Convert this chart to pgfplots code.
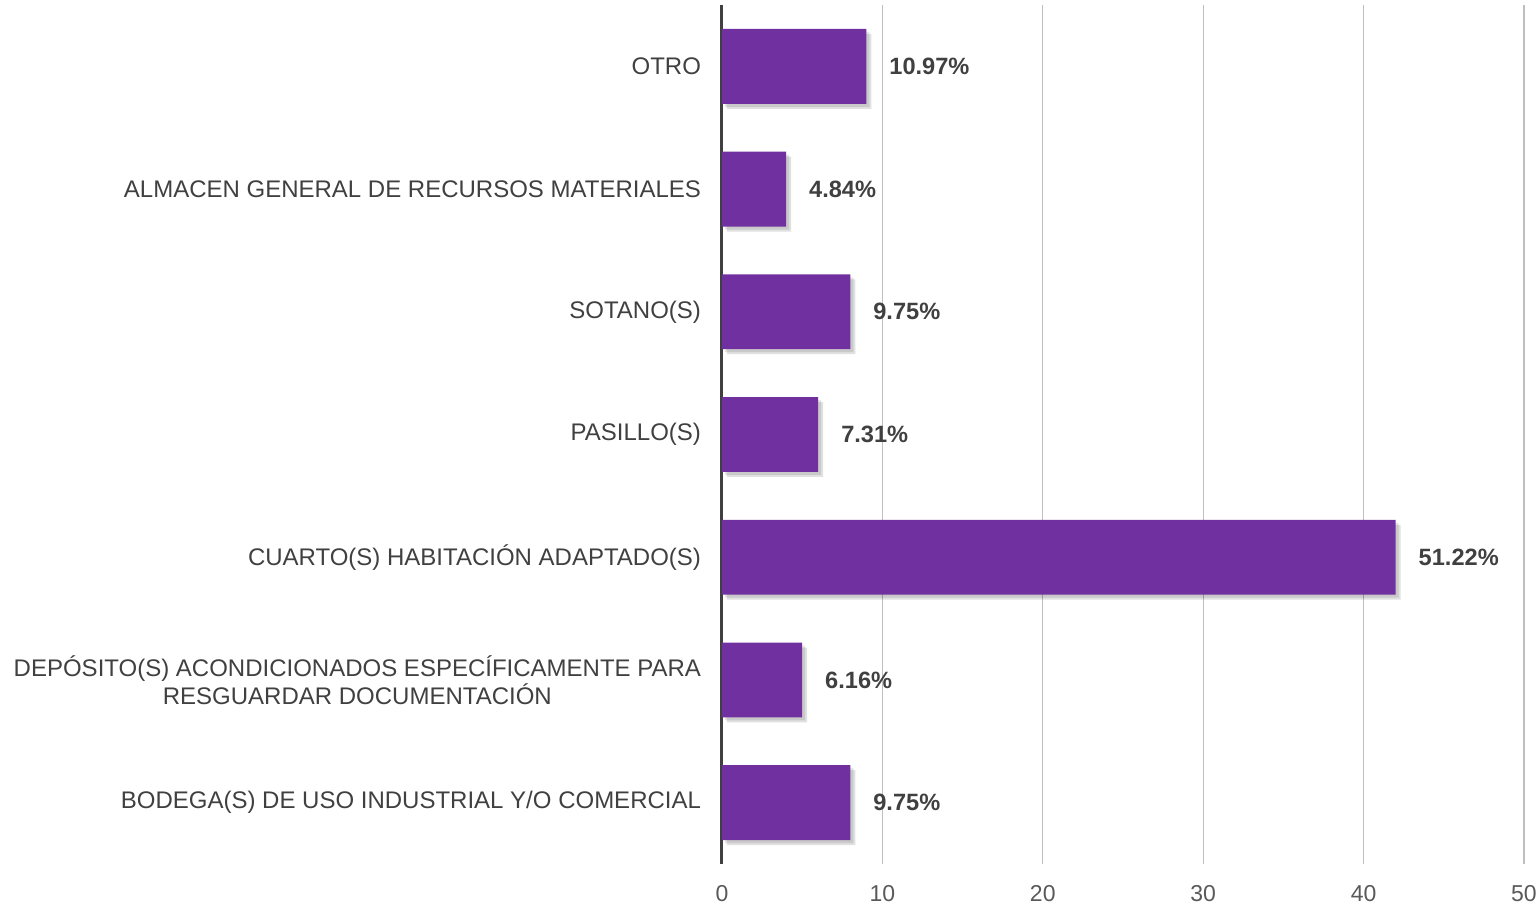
\documentclass[border=0pt]{standalone}
\usepackage{pgfplots}
\pgfplotsset{compat=1.18}
\usepackage{fontspec}
\setmainfont{Liberation Sans}
\definecolor{barpurple}{HTML}{7030A0}
\definecolor{txtgray}{HTML}{404040}
\definecolor{tickgray}{HTML}{595959}
\definecolor{gridgray}{HTML}{BFBFBF}
\pgfplotstableread{
y x lab
0 8 9.75
1 5 6.16
2 42 51.22
3 6 7.31
4 8 9.75
5 4 4.84
6 9 10.97
}\datatable
\begin{document}
\begin{tikzpicture}
\useasboundingbox (-361bp,-20bp) rectangle (408.5bp,432bp);
\begin{axis}[
  at={(0,0)}, anchor=south west,
  scale only axis,
  width=401bp, height=429.5bp,
  xmin=0, xmax=50,
  ymin=-0.5, ymax=6.5,
  xtick={0,10,20,30,40,50},
  ytick={0,1,2,3,4,5,6},
  yticklabels={
    {BODEGA(S) DE USO INDUSTRIAL Y/O COMERCIAL},
    {DEPÓSITO(S) ACONDICIONADOS ESPECÍFICAMENTE PARA\\RESGUARDAR DOCUMENTACIÓN},
    {CUARTO(S) HABITACIÓN ADAPTADO(S)},
    {PASILLO(S)},
    {SOTANO(S)},
    {ALMACEN GENERAL DE RECURSOS MATERIALES},
    {OTRO}},
  yticklabel style={align=center, font=\fontsize{12bp}{14bp}\selectfont, text=txtgray, xshift=-7bp},
  xticklabel style={font=\fontsize{11.5bp}{14bp}\selectfont, text=tickgray, yshift=-7bp},
  /pgf/number format/assume math mode=true,
  major tick length=0pt,
  xmajorgrids,
  grid style={gridgray, line width=0.6bp},
  axis x line*=bottom,
  axis y line*=left,
  x axis line style={draw=none},
  y axis line style={draw=txtgray, line width=1.5bp},
  axis on top=false,
  clip=false,
]
% soft shadow layers
\addplot[xbar, bar width=0.61, fill=black, fill opacity=0.10, draw=none, xshift=1.5bp, yshift=-1.5bp, forget plot]
  table[x=x, y=y] {\datatable};
\addplot[xbar, bar width=0.61, fill=black, fill opacity=0.12, draw=none, xshift=2.5bp, yshift=-2.5bp, forget plot]
  table[x=x, y=y] {\datatable};
\addplot[xbar, bar width=0.61, fill=barpurple, draw=none,
  point meta=explicit symbolic,
  nodes near coords={\pgfplotspointmeta\%},
  every node near coord/.append style={anchor=west, xshift=8bp, font=\bfseries\fontsize{11.8bp}{14bp}\selectfont, text=txtgray}]
  table[x=x, y=y, meta=lab] {\datatable};
\end{axis}
\end{tikzpicture}
\end{document}
